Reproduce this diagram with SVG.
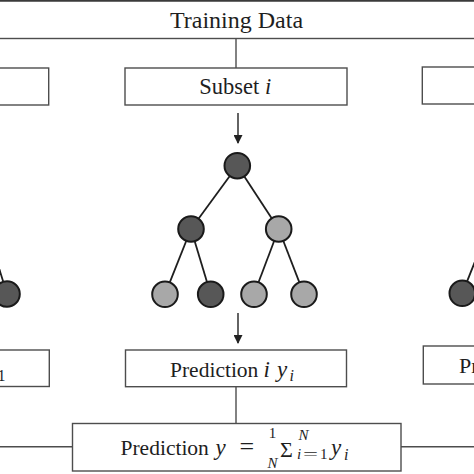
<svg xmlns="http://www.w3.org/2000/svg" width="474" height="474" viewBox="0 0 474 474">
<style>
.box{fill:#fff;stroke:#4d4d4d;stroke-width:1.4}
.ln{stroke:#4d4d4d;stroke-width:1.4;fill:none}
.edge{stroke:#1e1e1e;stroke-width:1.8}
.dk{fill:#575757;stroke:#1a1a1a;stroke-width:2}
.lt{fill:#a8a8a8;stroke:#1a1a1a;stroke-width:2}
.t{font-family:"Liberation Serif","Times New Roman",serif;fill:#1e1e1e}
.m{font-family:"Liberation Serif","Times New Roman",serif;font-style:italic;fill:#1e1e1e}
.arr{stroke:#222;stroke-width:1.4}
</style>
<defs>
<marker id="ah" markerWidth="9" markerHeight="9" refX="8" refY="4.5" orient="auto" markerUnits="userSpaceOnUse">
<path d="M0,0 L9,4.5 L0,9 Z" fill="#222"/>
</marker>
</defs>
<rect width="474" height="474" fill="#fff"/>

<g id="connectors">
<line class="ln" x1="236" y1="38.5" x2="236" y2="68"/>
<line class="arr" x1="238" y1="113" x2="238" y2="143" marker-end="url(#ah)"/>
<line class="arr" x1="238" y1="313" x2="238" y2="343" marker-end="url(#ah)"/>
<line class="ln" x1="236" y1="387" x2="236" y2="423.5"/>
<line class="ln" x1="0" y1="446.7" x2="72.5" y2="446.7"/>
<line class="ln" x1="401" y1="446.7" x2="474" y2="446.7"/>
<line class="edge" x1="237.3" y1="165.7" x2="191" y2="229"/>
<line class="edge" x1="237.3" y1="165.7" x2="278.7" y2="229"/>
<line class="edge" x1="191" y1="229" x2="165" y2="294.3"/>
<line class="edge" x1="191" y1="229" x2="210.7" y2="294.3"/>
<line class="edge" x1="278.7" y1="229" x2="254" y2="294.3"/>
<line class="edge" x1="278.7" y1="229" x2="304" y2="294.3"/>
<line class="edge" x1="-13" y1="229" x2="7" y2="294"/>
<line class="edge" x1="488" y1="229" x2="462.3" y2="293.3"/>
</g>

<g id="training-data">
<rect class="box" x="-10" y="0" width="494" height="38.5"/>
<line x1="0" y1="0" x2="474" y2="0" stroke="#3a3a3a" stroke-width="3.4"/>
<text class="t" x="236.5" y="28.3" font-size="24" text-anchor="middle">Training Data</text>
</g>

<g id="subset-left"><rect class="box" x="-180" y="68" width="228.7" height="37"/></g>
<g id="subset-i">
<rect class="box" x="125" y="68" width="222" height="37"/>
<text class="t" x="199.3" y="93.5" font-size="22.5">Subset</text>
<text class="m" x="265" y="93.5" font-size="22.5">i</text>
</g>
<g id="subset-right"><rect class="box" x="422.3" y="67" width="222" height="37"/></g>

<g id="tree-i">
<circle class="dk" cx="237.3" cy="165.7" r="12.8"/>
<circle class="dk" cx="191" cy="229" r="12.8"/>
<circle class="lt" cx="278.7" cy="229" r="12.8"/>
<circle class="lt" cx="165" cy="294.3" r="12.8"/>
<circle class="dk" cx="210.7" cy="294.3" r="12.8"/>
<circle class="lt" cx="254" cy="294.3" r="12.8"/>
<circle class="lt" cx="304" cy="294.3" r="12.8"/>
</g>
<g id="tree-left"><circle class="dk" cx="7" cy="294" r="12.8"/></g>
<g id="tree-right"><circle class="dk" cx="462.3" cy="293.3" r="12.8"/></g>

<g id="prediction-left">
<rect class="box" x="-180" y="350" width="229.3" height="36.5"/>
<text class="t" x="5.5" y="381" font-size="16" text-anchor="end">1</text>
</g>
<g id="prediction-i">
<rect class="box" x="125.5" y="350" width="221" height="36.7"/>
<text class="t" x="170" y="377" font-size="21.5">Prediction</text>
<text class="m" x="263.5" y="377" font-size="23">i</text>
<text class="m" x="277" y="377" font-size="23">y</text>
<text class="m" x="289.5" y="381" font-size="16">i</text>
</g>
<g id="prediction-right">
<rect class="box" x="423.3" y="346" width="222" height="38"/>
<text class="t" x="459" y="372.5" font-size="22">Pr</text>
</g>

<g id="prediction-final">
<rect class="box" x="72.5" y="423.5" width="328.5" height="47.5"/>
<text class="t" x="120.5" y="455" font-size="21.5">Prediction</text>
<text class="m" x="215.5" y="455" font-size="23">y</text>
<text class="t" x="239.5" y="455" font-size="26">=</text>
<text class="t" x="272.5" y="438" font-size="15" text-anchor="middle">1</text>
<text class="m" x="272.5" y="467.5" font-size="15" text-anchor="middle">N</text>
<text class="t" x="280" y="456.5" font-size="22">Σ</text>
<text class="m" x="298.5" y="439.5" font-size="15">N</text>
<text class="m" x="297" y="458.5" font-size="15">i</text>
<text class="t" x="303" y="458.5" font-size="15" textLength="15" lengthAdjust="spacingAndGlyphs">=</text>
<text class="t" x="320" y="458.5" font-size="15">1</text>
<text class="m" x="331" y="455" font-size="23">y</text>
<text class="m" x="344" y="459.5" font-size="16">i</text>
</g>
</svg>
